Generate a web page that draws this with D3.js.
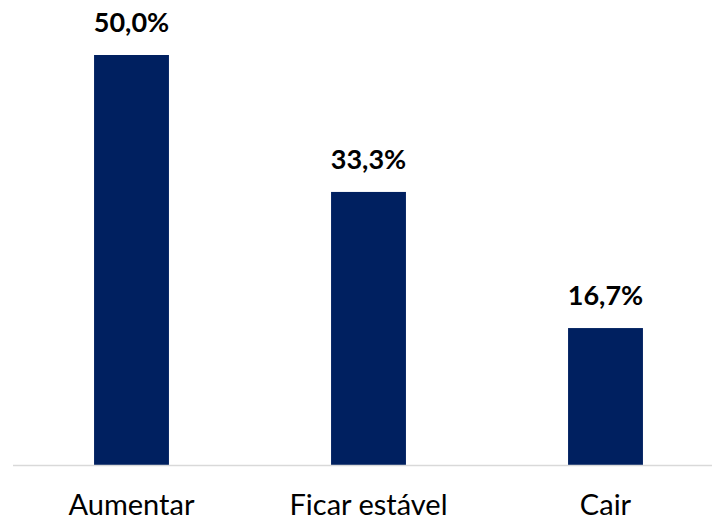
<!DOCTYPE html>
<html><head><meta charset="utf-8">
<script src="https://cdn.jsdelivr.net/npm/d3@7"></script>
<style>body{margin:0;background:#fff}</style></head>
<body><svg id="c" width="712" height="522"></svg>
<script>
const categories = ["Aumentar", "Ficar estável", "Cair"];
const values = [50.0, 33.3, 16.7];
const labels = ["50,0%", "33,3%", "16,7%"];

const svg = d3.select("#c");
const font = "Lato, 'Open Sans', sans-serif";
const baseY = 465;
const x = d3.scaleBand().domain(categories).range([13, 724]).paddingInner(0.684).paddingOuter(0.342);
const y = d3.scaleLinear().domain([0, 50]).range([baseY, 55]);

svg.selectAll("rect.bar").data(values).join("rect")
  .attr("class","bar")
  .attr("x",(d,i)=>x(categories[i]))
  .attr("width",x.bandwidth())
  .attr("y",d=>y(d))
  .attr("height",d=>baseY-y(d))
  .attr("fill","#002060");

svg.append("line").attr("x1",13).attr("x2",712).attr("y1",baseY+0.5).attr("y2",baseY+0.5)
  .attr("stroke","#d9d9d9").attr("stroke-width",1.5);

svg.selectAll("text.val").data(values).join("text")
  .attr("class","val")
  .attr("x",(d,i)=>x(categories[i])+x.bandwidth()/2)
  .attr("y",d=>y(d)-23)
  .attr("text-anchor","middle")
  .attr("font-family",font).attr("font-weight","bold").attr("font-size",27)
  .attr("fill","#000")
  .text((d,i)=>labels[i]);

svg.selectAll("text.cat").data(categories).join("text")
  .attr("class","cat")
  .attr("x",d=>x(d)+x.bandwidth()/2)
  .attr("y",515)
  .attr("text-anchor","middle")
  .attr("font-family",font).attr("font-size",29)
  .attr("fill","#000")
  .text(d=>d);
</script></body></html>
